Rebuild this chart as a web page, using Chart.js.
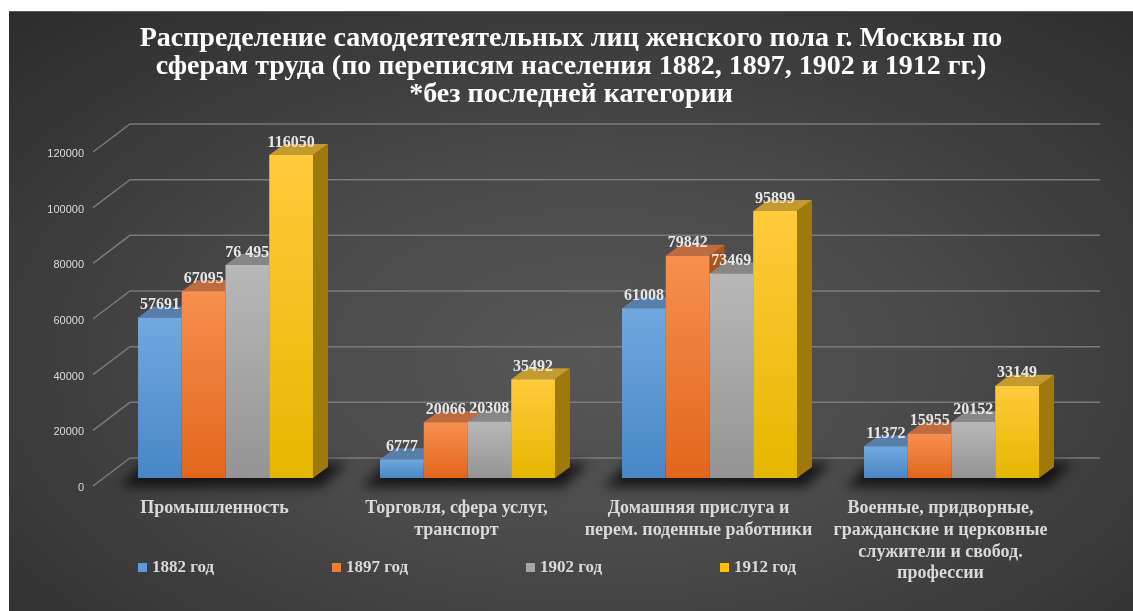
<!DOCTYPE html>
<html>
<head>
<meta charset="utf-8">
<script src="https://cdn.jsdelivr.net/npm/chart.js@4.4.1/dist/chart.umd.min.js"></script>
<style>
  html, body { margin: 0; padding: 0; background: #fff; width: 1133px; height: 611px; overflow: hidden; }
  #box {
    position: absolute; left: 9px; top: 11px; width: 1124px; height: 600px;
    background: radial-gradient(ellipse 75% 80% at 52% 58%, #575757 0%, #4a4a4a 40%, #2c2c2c 100%);
    box-shadow: inset 0 1px 0 #5c5c5c;
  }
  canvas { display: block; }
</style>
</head>
<body>
<div id="box"><canvas id="chart" width="1124" height="600"></canvas></div>
<script>
// data
const titleLines = [
  'Распределение самодеятеятельных лиц женского пола г. Москвы по',
  'сферам труда (по переписям населения 1882, 1897, 1902 и 1912 гг.)',
  '*без последней категории'
];
const categories = [
  ['Промышленность'],
  ['Торговля, сфера услуг,', 'транспорт'],
  ['Домашняя прислуга и', 'перем. поденные работники'],
  ['Военные, придворные,', 'гражданские и церковные', 'служители и свобод.', 'профессии']
];
const years = ['1882 год', '1897 год', '1902 год', '1912 год'];
const values1882 = [57691, 6777, 61008, 11372];
const values1897 = [67095, 20066, 79842, 15955];
const values1902 = [76495, 20308, 73469, 20152];
const values1912 = [116050, 35492, 95899, 33149];
const yMax = 120000;
const yStep = 20000;

// styles
const frontTop = ['#70a9df', '#f6904f', '#b8b8b8', '#ffcb3c'];
const frontBottom = ['#4886c6', '#e2661c', '#949494', '#e6b700'];
const topColors = ['#577fa9', '#bf6a3f', '#878787', '#c59a2f'];
const sideColors = ['#3b6796', '#a9541c', '#767676', '#9d7a0b'];
const legendColors = ['#5b9bd5', '#ed7d31', '#a5a5a5', '#ffc000'];
const DX = 15, DY = -11;
const legendX = [129, 323, 517, 711];

function frontFill(i) {
  return (c) => {
    const chart = c.chart;
    if (!chart.chartArea || c.type !== 'data') return legendColors[i];
    const y = chart.scales.y;
    const top = y.getPixelForValue(c.raw);
    const base = y.getPixelForValue(0);
    const g = chart.ctx.createLinearGradient(0, top, 0, base);
    g.addColorStop(0, frontTop[i]);
    g.addColorStop(1, frontBottom[i]);
    return g;
  };
}

function valueText(v) {
  // the picture writes this one with a space
  return v === 76495 ? '76 495' : String(v);
}

const bars3d = {
  id: 'bars3d',
  beforeDatasetsDraw(chart) {
    const { ctx, chartArea } = chart;
    const y = chart.scales.y;
    ctx.save();
    ctx.strokeStyle = 'rgba(125,125,125,0.95)';
    ctx.lineWidth = 1.5;
    y.ticks.forEach(t => {
      const py = y.getPixelForValue(t.value);
      ctx.beginPath();
      ctx.moveTo(chartArea.left - 11.5, py + 8);
      ctx.lineTo(chartArea.left + 25.5, py - 20);
      ctx.lineTo(chartArea.right + 27.5, py - 20);
      ctx.stroke();
    });
    // floor shadow under each group
    const first = chart.getDatasetMeta(0).data;
    const last = chart.getDatasetMeta(3).data;
    ctx.filter = 'blur(6px)';
    ctx.fillStyle = 'rgba(0,0,0,0.7)';
    first.forEach((b, i) => {
      const l = b.x - b.width / 2;
      const r = last[i].x + last[i].width / 2;
      const base = b.base;
      ctx.beginPath();
      ctx.moveTo(l - 18, base + 9);
      ctx.lineTo(r + 8, base + 9);
      ctx.lineTo(r + 34, base - 15);
      ctx.lineTo(l + 6, base - 15);
      ctx.closePath();
      ctx.fill();
    });
    ctx.filter = 'none';
    // side and top faces, left to right; Chart.js then paints the fronts
    chart.data.datasets.forEach((ds, i) => {
      chart.getDatasetMeta(i).data.forEach(b => {
        const l = b.x - b.width / 2, r = b.x + b.width / 2;
        const top = b.y, base = b.base;
        ctx.fillStyle = sideColors[i];
        ctx.beginPath();
        ctx.moveTo(r, top); ctx.lineTo(r + DX, top + DY);
        ctx.lineTo(r + DX, base + DY); ctx.lineTo(r, base);
        ctx.closePath(); ctx.fill();
        ctx.fillStyle = topColors[i];
        ctx.beginPath();
        ctx.moveTo(l, top); ctx.lineTo(l + DX, top + DY);
        ctx.lineTo(r + DX, top + DY); ctx.lineTo(r, top);
        ctx.closePath(); ctx.fill();
      });
    });
    ctx.restore();
  },
  afterDatasetsDraw(chart) {
    const ctx = chart.ctx;
    ctx.save();
    ctx.font = 'bold 16px "Liberation Serif"';
    ctx.fillStyle = '#e6e6e6';
    ctx.textAlign = 'center';
    ctx.textBaseline = 'middle';
    chart.data.datasets.forEach((ds, i) => {
      chart.getDatasetMeta(i).data.forEach((b, j) => {
        ctx.fillText(valueText(ds.data[j]), b.x, b.y - 12.5);
      });
    });
    ctx.restore();
  },
  afterDraw(chart) {
    const ctx = chart.ctx;
    ctx.save();
    ctx.font = 'bold 17px "Liberation Serif"';
    ctx.textBaseline = 'middle';
    years.forEach((t, i) => {
      ctx.fillStyle = legendColors[i];
      ctx.fillRect(legendX[i], 552, 9, 9);
      ctx.fillStyle = '#d9d9d9';
      ctx.fillText(t, legendX[i] + 14, 557);
    });
    ctx.restore();
  }
};

const seriesValues = [values1882, values1897, values1902, values1912];

new Chart(document.getElementById('chart'), {
  type: 'bar',
  data: {
    labels: categories,
    datasets: seriesValues.map((vals, i) => ({
      label: years[i],
      data: vals,
      backgroundColor: frontFill(i),
      borderWidth: 0,
      barPercentage: 1,
      categoryPercentage: 0.723
    }))
  },
  options: {
    responsive: false,
    animation: false,
    layout: { padding: 0 },
    plugins: {
      legend: { display: false },
      tooltip: { enabled: false },
      title: {
        display: true,
        text: titleLines,
        color: '#ffffff',
        font: { family: 'Liberation Serif', size: 28, weight: 'bold', lineHeight: 1.0 },
        padding: { top: 14, bottom: 35 }
      }
    },
    scales: {
      x: {
        grid: { display: false },
        border: { display: false },
        afterFit(s) { s.height = 133; },
        ticks: {
          color: '#d9d9d9',
          font: { family: 'Liberation Serif', size: 18, weight: 'bold', lineHeight: 1.2 },
          padding: 12,
          labelOffset: -11,
          maxRotation: 0,
          autoSkip: false
        }
      },
      y: {
        min: 0,
        max: yMax,
        grid: { display: false },
        border: { display: false },
        afterFit(s) { s.width = 95.5; },
        ticks: {
          stepSize: yStep,
          color: '#d9d9d9',
          font: { family: 'Liberation Sans', size: 11 },
          padding: 12.5,
          labelOffset: 10,
          callback: v => String(v)
        }
      },
      // empty right-hand axis that only reserves the space right of the bars
      yRight: {
        position: 'right',
        grid: { display: false },
        border: { display: false },
        ticks: { display: false },
        afterFit(s) { s.width = 60.5; }
      }
    }
  },
  plugins: [bars3d]
});
</script>
</body>
</html>
